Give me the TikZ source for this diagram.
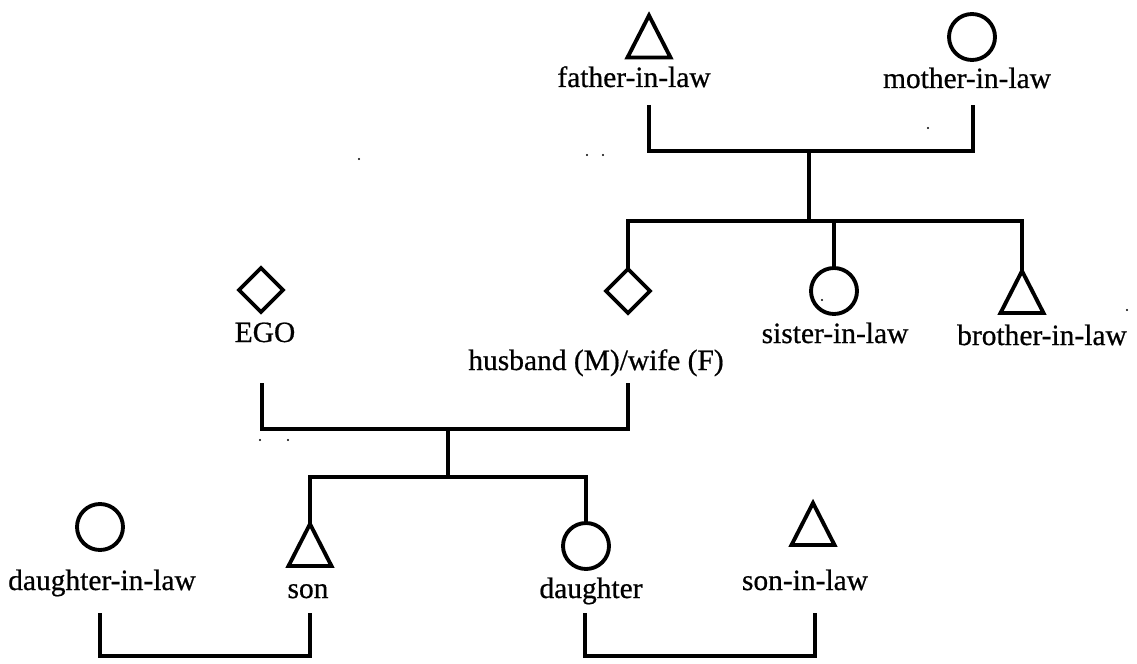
\documentclass[tikz,border=0pt]{standalone}
\usepackage{fontspec}
\setmainfont[FakeBold=0.6]{Liberation Serif}
\usetikzlibrary{shapes.geometric}
\begin{document}
\begin{tikzpicture}[x=0.75pt,y=-0.75pt,
  kin/.style={line width=2.4pt},
  outline/.style={line width=2.9pt, line join=miter},
  % male: a box whose outline is drawn as a triangle afterwards
  male/.style={inner sep=0pt, outer sep=0pt, minimum width=43*0.75pt, minimum height=42*0.75pt},
  female/.style={draw, outline, circle, minimum size=46*0.75pt, inner sep=0pt, outer sep=0pt},
  either/.style={draw, outline, diamond, aspect=1, minimum size=44*0.75pt, inner sep=0pt, outer sep=0pt},
  lbl/.style={anchor=base, inner sep=0pt, font=\fontsize{22.1pt}{26pt}\selectfont},
  speck/.style={fill, circle, inner sep=0pt, minimum size=1.6pt}
]
\useasboundingbox (0,0) rectangle (1137,663);

% ---- parents-in-law ----
\node[male]   (fa)  at (649,36.5) {};
\node[female] (mo)  at (972,37)   {};
\node[lbl] (fa-l) at (634,87) {father-in-law};
\node[lbl] (mo-l) at (967,88) {mother-in-law};

% ---- spouse's generation ----
\node[either] (hus) at (628,291) {};
\node[female] (sis) at (834,291) {};
\node[male]   (bro) at (1022,292) {};
\node[lbl] (hus-l) at (596,370) {husband (M)/wife (F)};
\node[lbl] (sis-l) at (835,343) {sister-in-law};
\node[lbl] (bro-l) at (1042,345) {brother-in-law};

\node[either] (ego) at (261,290) {};
\node[lbl] (ego-l) at (265,342) {EGO};

% ---- children and their spouses ----
\node[female] (dil) at (100,527) {};
\node[male]   (son) at (310,545) {};
\node[female] (dau) at (586,546) {};
\node[male]   (sil) at (813,524) {};
\node[lbl] (dil-l) at (102,590) {daughter-in-law};
\node[lbl] (son-l) at (308,598) {son};
\node[lbl] (dau-l) at (591,598) {daughter};
\node[lbl] (sil-l) at (805,590) {son-in-law};

% triangles for the male boxes
\foreach \n in {fa,bro,son,sil}
  \draw[outline] (\n.north) -- (\n.south east) -- (\n.south west) -- cycle;

% ---- marriage and sibling lines ----
\coordinate (fa-d) at (649,105);
\coordinate (mo-d) at (973,105);
\coordinate (pm1)  at (809,151);
\coordinate (sib)  at (809,221);
\draw[kin] (fa-d) |- (pm1) -| (mo-d);
\draw[kin] (pm1) -- (sib);
\draw[kin] (hus.north) |- (sib) -| (bro.north);
\draw[kin] (sis.north) -- (sis.north |- sib);

\coordinate (ego-d) at (262,383);
\coordinate (hus-d) at (628,383);
\coordinate (pm2)   at (448,429);
\coordinate (kids)  at (448,477);
\draw[kin] (ego-d) |- (pm2) -| (hus-d);
\draw[kin] (pm2) -- (kids);
\draw[kin] (son.north) |- (kids) -| (dau.north);

\coordinate (dil-d) at (100,613);
\coordinate (son-d) at (310,613);
\coordinate (m3)    at (205,656);
\draw[kin] (dil-d) |- (m3) -| (son-d);

\coordinate (dau-d) at (585,613);
\coordinate (sil-d) at (815,613);
\coordinate (m4)    at (700,656);
\draw[kin] (dau-d) |- (m4) -| (sil-d);

% stray specks
\foreach \p in {(587,155),(603,155),(359,159),(928,128),(822,300),(1127,310),(260,440),(288,440)}
  \node[speck] at \p {};
\end{tikzpicture}
\end{document}
